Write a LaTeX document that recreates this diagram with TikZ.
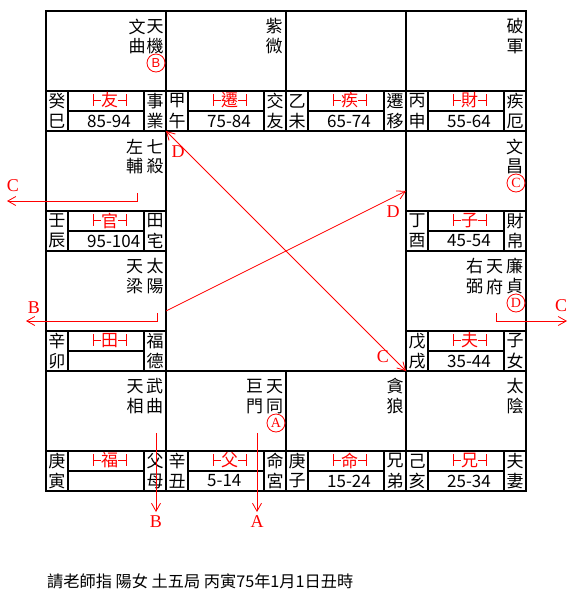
\documentclass[tikz,border=0pt]{standalone}
\usepackage{fontspec}
\setmainfont{Noto Sans CJK TC}
\newfontfamily\serf{Liberation Serif}
\newfontfamily\sanf{Liberation Sans}
\usetikzlibrary{arrows.meta}
\tikzset{
  grid/.style={line width=2pt, line cap=rect},
  ch/.style={inner sep=0pt, font=\fontsize{17}{17}\selectfont},
  rch/.style={ch, text=red},
  tick/.style={red, line width=0.9pt},
  flow/.style={red, line width=0.8pt},
  >={Straight Barb[length=8pt,width=9pt]},
  lab/.style={inner sep=0pt, text=red, font=\serf\fontsize{18}{18}\selectfont},
  circ/.style={circle, draw=red, line width=0.8pt, minimum size=18pt, inner sep=0pt, text=red, font=\serf\fontsize{14}{14}\selectfont},
}
% palace strip: x0, y0, stem1, stem2, label, age, role1, role2, id
\newcommand\pal[9]{%
  \draw[grid] (#1,#2+80) -- (#1+120,#2+80);
  \draw[grid] (#1+22,#2+80) -- (#1+22,#2+120);
  \draw[grid] (#1+98,#2+80) -- (#1+98,#2+120);
  \draw[grid] (#1+22,#2+100) -- (#1+98,#2+100);
  \node[ch] (#9s1) at (#1+11,#2+90) {#3};
  \node[ch] (#9s2) at (#1+11,#2+110) {#4};
  \node[rch] (#9lb) at (#1+63.5,#2+89.5) {#5};
  \draw[tick] (#1+47,#2+83) -- (#1+47,#2+95) (#1+47,#2+89) -- (#1+55,#2+89);
  \draw[tick] (#1+80,#2+83) -- (#1+80,#2+95) (#1+72,#2+89) -- (#1+80,#2+89);
  \node[ch, anchor=west] (#9ag) at (#1+41,#2+110) {#6};
  \node[ch] (#9r1) at (#1+109,#2+90) {#7};
  \node[ch] (#9r2) at (#1+109,#2+110) {#8};
}
% vertical pair of star characters: id, x, y0, char1, char2
\newcommand\sv[5]{%
  \node[ch] (#1a) at (#2,#3+15.5) {#4};
  \node[ch] (#1b) at (#2,#3+35.5) {#5};
}
\begin{document}
\begin{tikzpicture}[x=1pt,y=-1pt]
\useasboundingbox (0,0) rectangle (582,595);
\fill[white] (0,0) rectangle (582,595);
% grid
\draw[grid] (46,11) rectangle (526,491);
\draw[grid] (166,11) -- (166,491);
\draw[grid] (406,11) -- (406,491);
\draw[grid] (286,11) -- (286,131);
\draw[grid] (286,371) -- (286,491);
\draw[grid] (46,131) -- (526,131);
\draw[grid] (46,371) -- (526,371);
\draw[grid] (46,251) -- (166,251);
\draw[grid] (406,251) -- (526,251);
% strips
\pal{46}{11}{癸}{巳}{友}{85-94}{事}{業}{pa}
\pal{166}{11}{甲}{午}{遷}{75-84}{交}{友}{pb}
\pal{286}{11}{乙}{未}{疾}{65-74}{遷}{移}{pc}
\pal{406}{11}{丙}{申}{財}{55-64}{疾}{厄}{pd}
\pal{46}{131}{壬}{辰}{官}{95-104}{田}{宅}{pe}
\pal{406}{131}{丁}{酉}{子}{45-54}{財}{帛}{pf}
\pal{46}{251}{辛}{卯}{田}{}{福}{德}{pg}
\pal{406}{251}{戊}{戌}{夫}{35-44}{子}{女}{ph}
\pal{46}{371}{庚}{寅}{福}{}{父}{母}{pi}
\pal{166}{371}{辛}{丑}{父}{5-14}{命}{宮}{pj}
\pal{286}{371}{庚}{子}{命}{15-24}{兄}{弟}{pk}
\pal{406}{371}{己}{亥}{兄}{25-34}{夫}{妻}{pl}
% stars
\sv{sa}{155}{11}{天}{機}
\sv{sb}{137}{11}{文}{曲}
\sv{sc}{274}{11}{紫}{微}
\sv{sd}{515}{11}{破}{軍}
\sv{se}{155}{131}{七}{殺}
\sv{sf}{134.5}{131}{左}{輔}
\sv{sg}{514.5}{131}{文}{昌}
\sv{sh}{155}{251}{太}{陽}
\sv{si}{134.5}{251}{天}{梁}
\sv{sj}{514.5}{251}{廉}{貞}
\sv{sk}{494.5}{251}{天}{府}
\sv{sl}{474.5}{251}{右}{弼}
\sv{sm}{154.5}{371}{武}{曲}
\sv{sn}{135}{371}{天}{相}
\sv{so}{274.5}{371}{天}{同}
\sv{sp}{254.5}{371}{巨}{門}
\sv{sq}{395}{371}{貪}{狼}
\sv{sr}{515}{371}{太}{陰}
% circled markers
\node[circ, font=\sanf\fontsize{13}{13}\selectfont] (cB) at (156,63) {B};
\node[circ] (cC) at (516,183) {C};
\node[circ] (cD) at (516,303) {D};
\node[circ] (cA) at (276,423) {A};
% connector end points
\coordinate (d1a) at (166,131);
\coordinate (d1b) at (406,371);
\coordinate (d2a) at (166,311);
\coordinate (d2b) at (406,191);
\coordinate (lc0) at (137,193);
\coordinate (lc1) at (137,201);
\coordinate (lc2) at (7,201);
\coordinate (lb0) at (157,313);
\coordinate (lb1) at (157,321);
\coordinate (lb2) at (26,321);
\coordinate (rc0) at (496,313);
\coordinate (rc1) at (496,321);
\coordinate (rc2) at (567,321);
\coordinate (bb0) at (156,433);
\coordinate (bb1) at (156,512);
\coordinate (ba0) at (257,433);
\coordinate (ba1) at (257,512);
% connectors
\draw[flow,<->] (d1a) -- (d1b);
\draw[flow,->] (d2a) -- (d2b);
\draw[flow,->] (lc0) -- (lc1) -- (lc2);
\draw[flow,->] (lb0) -- (lb1) -- (lb2);
\draw[flow,->] (rc0) -- (rc1) -- (rc2);
\draw[flow,->] (bb0) -- (bb1);
\draw[flow,->] (ba0) -- (ba1);
% labels
\node[lab] (l1) at (178,152) {D};
\node[lab] (l2) at (383,357) {C};
\node[lab] (l3) at (393,212) {D};
\node[lab] (l4) at (13,186) {C};
\node[lab] (l5) at (34,308) {B};
\node[lab] (l6) at (561,306) {C};
\node[lab] (l7) at (156,522) {B};
\node[lab] (l8) at (257,522) {A};
% footer
\node[ch, anchor=west, font=\fontsize{16.2}{16.2}\selectfont] (foot) at (47,581) {請老師指 陽女 土五局 丙寅75年1月1日丑時};
\end{tikzpicture}
\end{document}
